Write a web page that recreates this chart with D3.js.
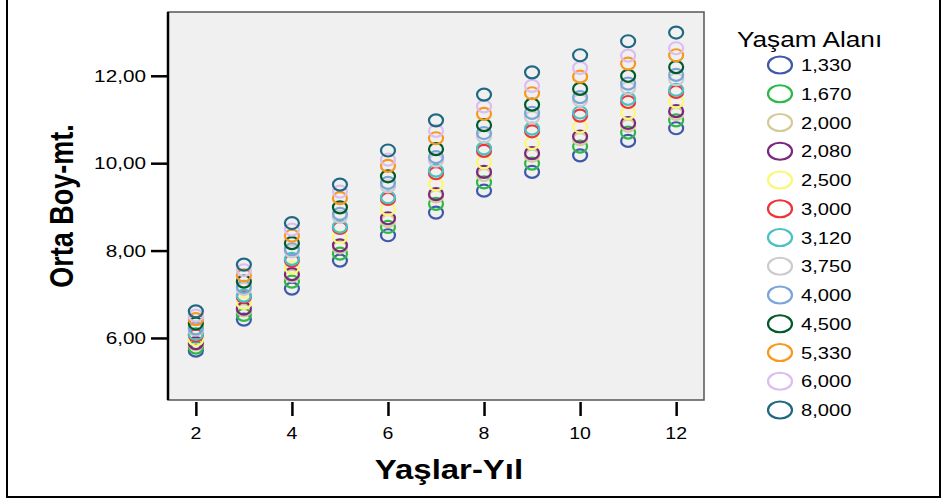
<!DOCTYPE html>
<html>
<head>
<meta charset="utf-8">
<script src="https://cdn.jsdelivr.net/npm/d3@7"></script>
<style>
  body { margin: 0; background: #fff; }
  text { font-family: "Liberation Sans", Arial, sans-serif; fill: #000; }
</style>
</head>
<body>
<div id="chart"></div>
<script>
// ages on x
var ages = [2, 3, 4, 5, 6, 7, 8, 9, 10, 11, 12];

// Yaşam Alanı groups, legend order
var groups = ["1,330", "1,670", "2,000", "2,080", "2,500", "3,000", "3,120", "3,750", "4,000", "4,500", "5,330", "6,000", "8,000"];
var groupColors = ["#3e58ac", "#2eb848", "#d4cc98", "#7b277d", "#fbf873", "#ef3338", "#48c2c5", "#cccccc", "#7ba4db", "#005a2a", "#f8981d", "#dcbdf0", "#1f6882"];

// Orta Boy-mt. per group, one value per age
var h1330 = [5.71, 6.42, 7.13, 7.77, 8.35, 8.87, 9.37, 9.80, 10.18, 10.51, 10.80];
var h1670 = [5.78, 6.53, 7.29, 7.93, 8.54, 9.07, 9.56, 9.99, 10.38, 10.70, 10.98];
var h2000 = [5.85, 6.63, 7.42, 8.07, 8.68, 9.24, 9.73, 10.17, 10.55, 10.86, 11.13];
var h2080 = [5.88, 6.67, 7.46, 8.12, 8.74, 9.29, 9.80, 10.23, 10.61, 10.92, 11.19];
var h2500 = [5.96, 6.80, 7.61, 8.31, 8.95, 9.51, 10.02, 10.46, 10.84, 11.15, 11.41];
var h3000 = [6.06, 6.94, 7.77, 8.52, 9.18, 9.77, 10.28, 10.73, 11.09, 11.40, 11.63];
var h3120 = [6.09, 6.97, 7.81, 8.55, 9.22, 9.83, 10.34, 10.79, 11.16, 11.47, 11.68];
var h3750 = [6.19, 7.12, 7.98, 8.77, 9.47, 10.06, 10.61, 11.05, 11.44, 11.72, 11.92];
var h4000 = [6.22, 7.17, 8.03, 8.84, 9.55, 10.14, 10.69, 11.15, 11.51, 11.82, 12.02];
var h4500 = [6.33, 7.29, 8.17, 8.99, 9.70, 10.32, 10.87, 11.34, 11.70, 12.00, 12.20];
var h5330 = [6.43, 7.43, 8.34, 9.20, 9.94, 10.57, 11.13, 11.60, 11.98, 12.28, 12.47];
var h6000 = [6.51, 7.55, 8.48, 9.35, 10.08, 10.74, 11.30, 11.77, 12.18, 12.46, 12.63];
var h8000 = [6.61, 7.68, 8.63, 9.51, 10.29, 10.98, 11.57, 12.08, 12.47, 12.79, 12.99];
var heights = [h1330, h1670, h2000, h2080, h2500, h3000, h3120, h3750, h4000, h4500, h5330, h6000, h8000];

var xTicks = [2, 4, 6, 8, 10, 12];
var yTicks = [6, 8, 10, 12];

var width = 942, height = 504;
var SX = 1.22; // the whole picture is a bit wide, so stretch text

var svg = d3.select("#chart").append("svg")
    .attr("width", width)
    .attr("height", height);

// outer frame
svg.append("rect")
    .attr("x", 7).attr("y", -10)
    .attr("width", 933).attr("height", 507)
    .attr("fill", "none").attr("stroke", "#000").attr("stroke-width", 2);

var plot = {left: 168, top: 12, right: 704, bottom: 400};

var x = d3.scaleLinear().domain([1.42, 12.58]).range([plot.left, plot.right]);
var y = d3.scaleLinear().domain([4.58, 13.46]).range([plot.bottom, plot.top]);

svg.append("rect")
    .attr("x", plot.left).attr("y", plot.top)
    .attr("width", plot.right - plot.left).attr("height", plot.bottom - plot.top)
    .attr("fill", "#f0f0f0").attr("stroke", "#555").attr("stroke-width", 1.5);

function stretchText(g, tx, ty, str, size, anchor, weight, rot) {
  return g.append("text")
    .attr("transform", "translate(" + tx + "," + ty + ") scale(" + SX + ",1)" + (rot ? " rotate(" + rot + ")" : ""))
    .attr("text-anchor", anchor)
    .attr("font-size", size)
    .attr("font-weight", weight || "normal")
    .text(str);
}

// y axis
var yAxis = svg.append("g").attr("transform", "translate(" + plot.left + ",0)")
    .call(d3.axisLeft(y).tickValues(yTicks).tickSize(17).tickFormat(""));
yAxis.select(".domain").attr("stroke-width", 2.5).attr("d", "M0," + plot.top + "V" + plot.bottom);
yAxis.selectAll(".tick line").attr("stroke-width", 2.5);
yTicks.forEach(function(v) {
  stretchText(svg, 146, y(v) + 6, d3.format(".2f")(v).replace(".", ","), 17, "end");
});

// x axis
var xAxis = svg.append("g").attr("transform", "translate(0," + (plot.bottom + 2) + ")")
    .call(d3.axisBottom(x).tickValues(xTicks).tickSize(14).tickFormat(""));
xAxis.select(".domain").remove();
xAxis.selectAll(".tick line").attr("stroke-width", 2.5);
xTicks.forEach(function(v) {
  stretchText(svg, x(v), 439, String(v), 16, "middle");
});

// axis titles
stretchText(svg, 449, 479, "Yaşlar-Yıl", 27, "middle", "bold");
stretchText(svg, 73, (plot.top + plot.bottom) / 2, "Orta Boy-mt.", 27, "middle", "bold", -90);

// points
var pts = svg.append("g");
groups.forEach(function(gname, gi) {
  pts.selectAll(null)
    .data(ages.map(function(a, i) { return {age: a, h: heights[gi][i]}; }))
    .enter().append("ellipse")
    .attr("cx", function(d) { return x(d.age); })
    .attr("cy", function(d) { return y(d.h); })
    .attr("rx", 7).attr("ry", 6)
    .attr("fill", "none")
    .attr("stroke", groupColors[gi])
    .attr("stroke-width", 2.2);
});

// legend
var leg = svg.append("g");
stretchText(leg, 737, 47, "Yaşam Alanı", 21.5, "start");
groups.forEach(function(gname, gi) {
  var cy = 65 + gi * 28.75;
  leg.append("ellipse")
    .attr("cx", 780).attr("cy", cy)
    .attr("rx", 12).attr("ry", 8.5)
    .attr("fill", "none")
    .attr("stroke", groupColors[gi])
    .attr("stroke-width", 2.2);
  stretchText(leg, 801, cy + 6, gname, 16.5, "start");
});
</script>
</body>
</html>
